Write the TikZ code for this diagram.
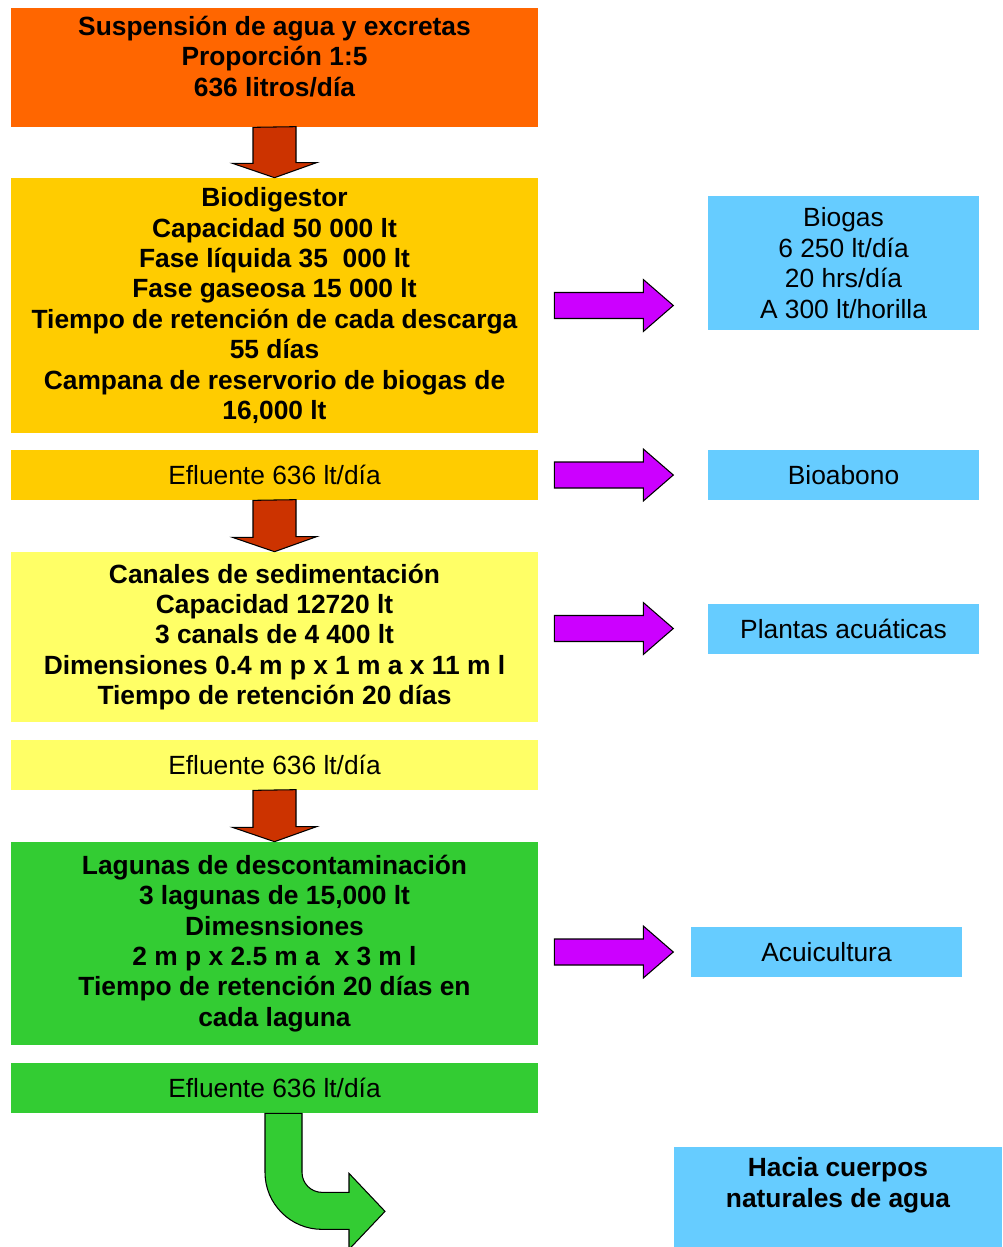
\documentclass[tikz,border=0pt]{standalone}
\usepackage{fontspec}
\setmainfont{Liberation Sans}
\usetikzlibrary{calc}
\definecolor{naranja}{HTML}{FF6600}
\definecolor{amarillo}{HTML}{FFCC00}
\definecolor{amarilloclaro}{HTML}{FFFF66}
\definecolor{verde}{HTML}{33CC33}
\definecolor{celeste}{HTML}{66CCFF}
\definecolor{magenta}{HTML}{CC00FF}
\definecolor{rojoflecha}{HTML}{CC3300}
\begin{document}
\begin{tikzpicture}[x=0.02cm, y=-0.02cm]
% Définition des styles
\tikzset{
caja/.style={rectangle, minimum width=10.54cm, inner sep=0pt, align=center, font=\fontsize{15}{17.3}\selectfont\bfseries},
efluente/.style={caja, minimum height=1cm, font=\fontsize{15}{17.3}\selectfont},
salida/.style={rectangle, fill=celeste, minimum width=5.42cm, minimum height=1cm, inner sep=0pt, align=center, font=\fontsize{15}{17.3}\selectfont},
flecharoja/.style={draw=black, line width=0.6pt, fill=rojoflecha},
flechamagenta/.style={draw=black, line width=0.6pt, fill=magenta},
flechaverde/.style={draw=black, line width=0.6pt, fill=verde}
}
\useasboundingbox (0,0) rectangle (1002,1247);
% Suspensión
\node[caja, fill=naranja, minimum height=2.38cm] (susp) at (274.5,67.5) {Suspensión de agua y excretas\\Proporción 1:5\\636 litros/día\rule[-0.45cm]{0pt}{0pt}};
% Biodigestor
\node[caja, fill=amarillo, minimum height=5.1cm] (bio) at (274.5,305.5) {Biodigestor\\Capacidad 50 000 lt\\Fase líquida 35~~000 lt\\Fase gaseosa 15 000 lt\\Tiempo de retención de cada descarga\\55 días\\Campana de reservorio de biogas de\\16,000 lt};
\node[efluente, fill=amarillo] (ef1) at (274.5,475) {Efluente 636 lt/día};
% Canales
\node[caja, fill=amarilloclaro, minimum height=3.4cm] (can) at (274.5,637) {Canales de sedimentación\\Capacidad 12720 lt\\3 canals de 4 400 lt\\Dimensiones 0.4 m p x 1 m a x 11 m l\\Tiempo de retención 20 días};
\node[efluente, fill=amarilloclaro] (ef2) at (274.5,765) {Efluente 636 lt/día};
% Lagunas
\node[caja, fill=verde, minimum height=4.06cm] (lag) at (274.5,943.5) {Lagunas de descontaminación\\3 lagunas de 15,000 lt\\Dimesnsiones\\2 m p x 2.5 m a~~x 3 m l\\Tiempo de retención 20 días en\\cada laguna};
\node[efluente, fill=verde] (ef3) at (274.5,1088) {Efluente 636 lt/día};
% Productos
\node[salida, minimum height=2.68cm] (biogas) at (843.5,263) {Biogas\\6 250 lt/día\\20 hrs/día\\A 300 lt/horilla};
\node[salida] (bioabono) at (843.5,475) {Bioabono};
\node[salida] (plantas) at (843.5,628.5) {Plantas acuáticas};
\node[salida] (acui) at (826.5,952) {Acuicultura};
\node[salida, minimum width=6.56cm, minimum height=2cm, font=\fontsize{15}{17.3}\selectfont\bfseries] (hacia) at (838,1197) {Hacia cuerpos\\naturales de agua\rule[-0.58cm]{0pt}{0pt}};
% Flechas rojas
\draw[flecharoja] ($(susp.south)+(-21.5,0)$) -- ++(0,36) -- ++(-20.5,0) -- (bio.north) -- ++(42,-15) -- ++(-20.5,0) -- ++(0,-36) -- cycle;
\draw[flecharoja] ($(ef1.south)+(-21.5,0)$) -- ++(0,37) -- ++(-20.5,0) -- (can.north) -- ++(42,-15) -- ++(-20.5,0) -- ++(0,-37) -- cycle;
\draw[flecharoja] ($(ef2.south)+(-21.5,0)$) -- ++(0,37) -- ++(-20.5,0) -- (lag.north) -- ++(42,-15) -- ++(-20.5,0) -- ++(0,-37) -- cycle;
% Flechas magenta
\draw[flechamagenta] ($(bio.east)+(16,-13)$) -- ++(89,0) -- ++(0,-13) -- ++(30,26) -- ++(-30,26) -- ++(0,-13) -- ++(-89,0) -- cycle;
\draw[flechamagenta] ($(ef1.east)+(16,-13)$) -- ++(89,0) -- ++(0,-13) -- ++(30,26) -- ++(-30,26) -- ++(0,-13) -- ++(-89,0) -- cycle;
\draw[flechamagenta] ($(bio.east|-plantas)+(16,-13)$) -- ++(89,0) -- ++(0,-13) -- ++(30,26) -- ++(-30,26) -- ++(0,-13) -- ++(-89,0) -- cycle;
\draw[flechamagenta] ($(bio.east|-acui)+(16,-13)$) -- ++(89,0) -- ++(0,-13) -- ++(30,26) -- ++(-30,26) -- ++(0,-13) -- ++(-89,0) -- cycle;
% Flecha curva
\coordinate (g0) at ($(ef3.south)+(-9.5,0)$);
\coordinate (g1) at ($(ef3.south)+(27.5,0)$);
\draw[flechaverde] (g0) -- ++(0,59) .. controls +(0,31.5) and +(-31.5,0) .. ++(57,57) -- ++(27,0) -- ++(0,20) -- ++(36,-38) -- ++(-36,-38) -- ++(0,19) -- ++(-27,0) .. controls +(-11,0) and +(0,11) .. ++(-20,-20) -- (g1) -- cycle;
\end{tikzpicture}
\end{document}
